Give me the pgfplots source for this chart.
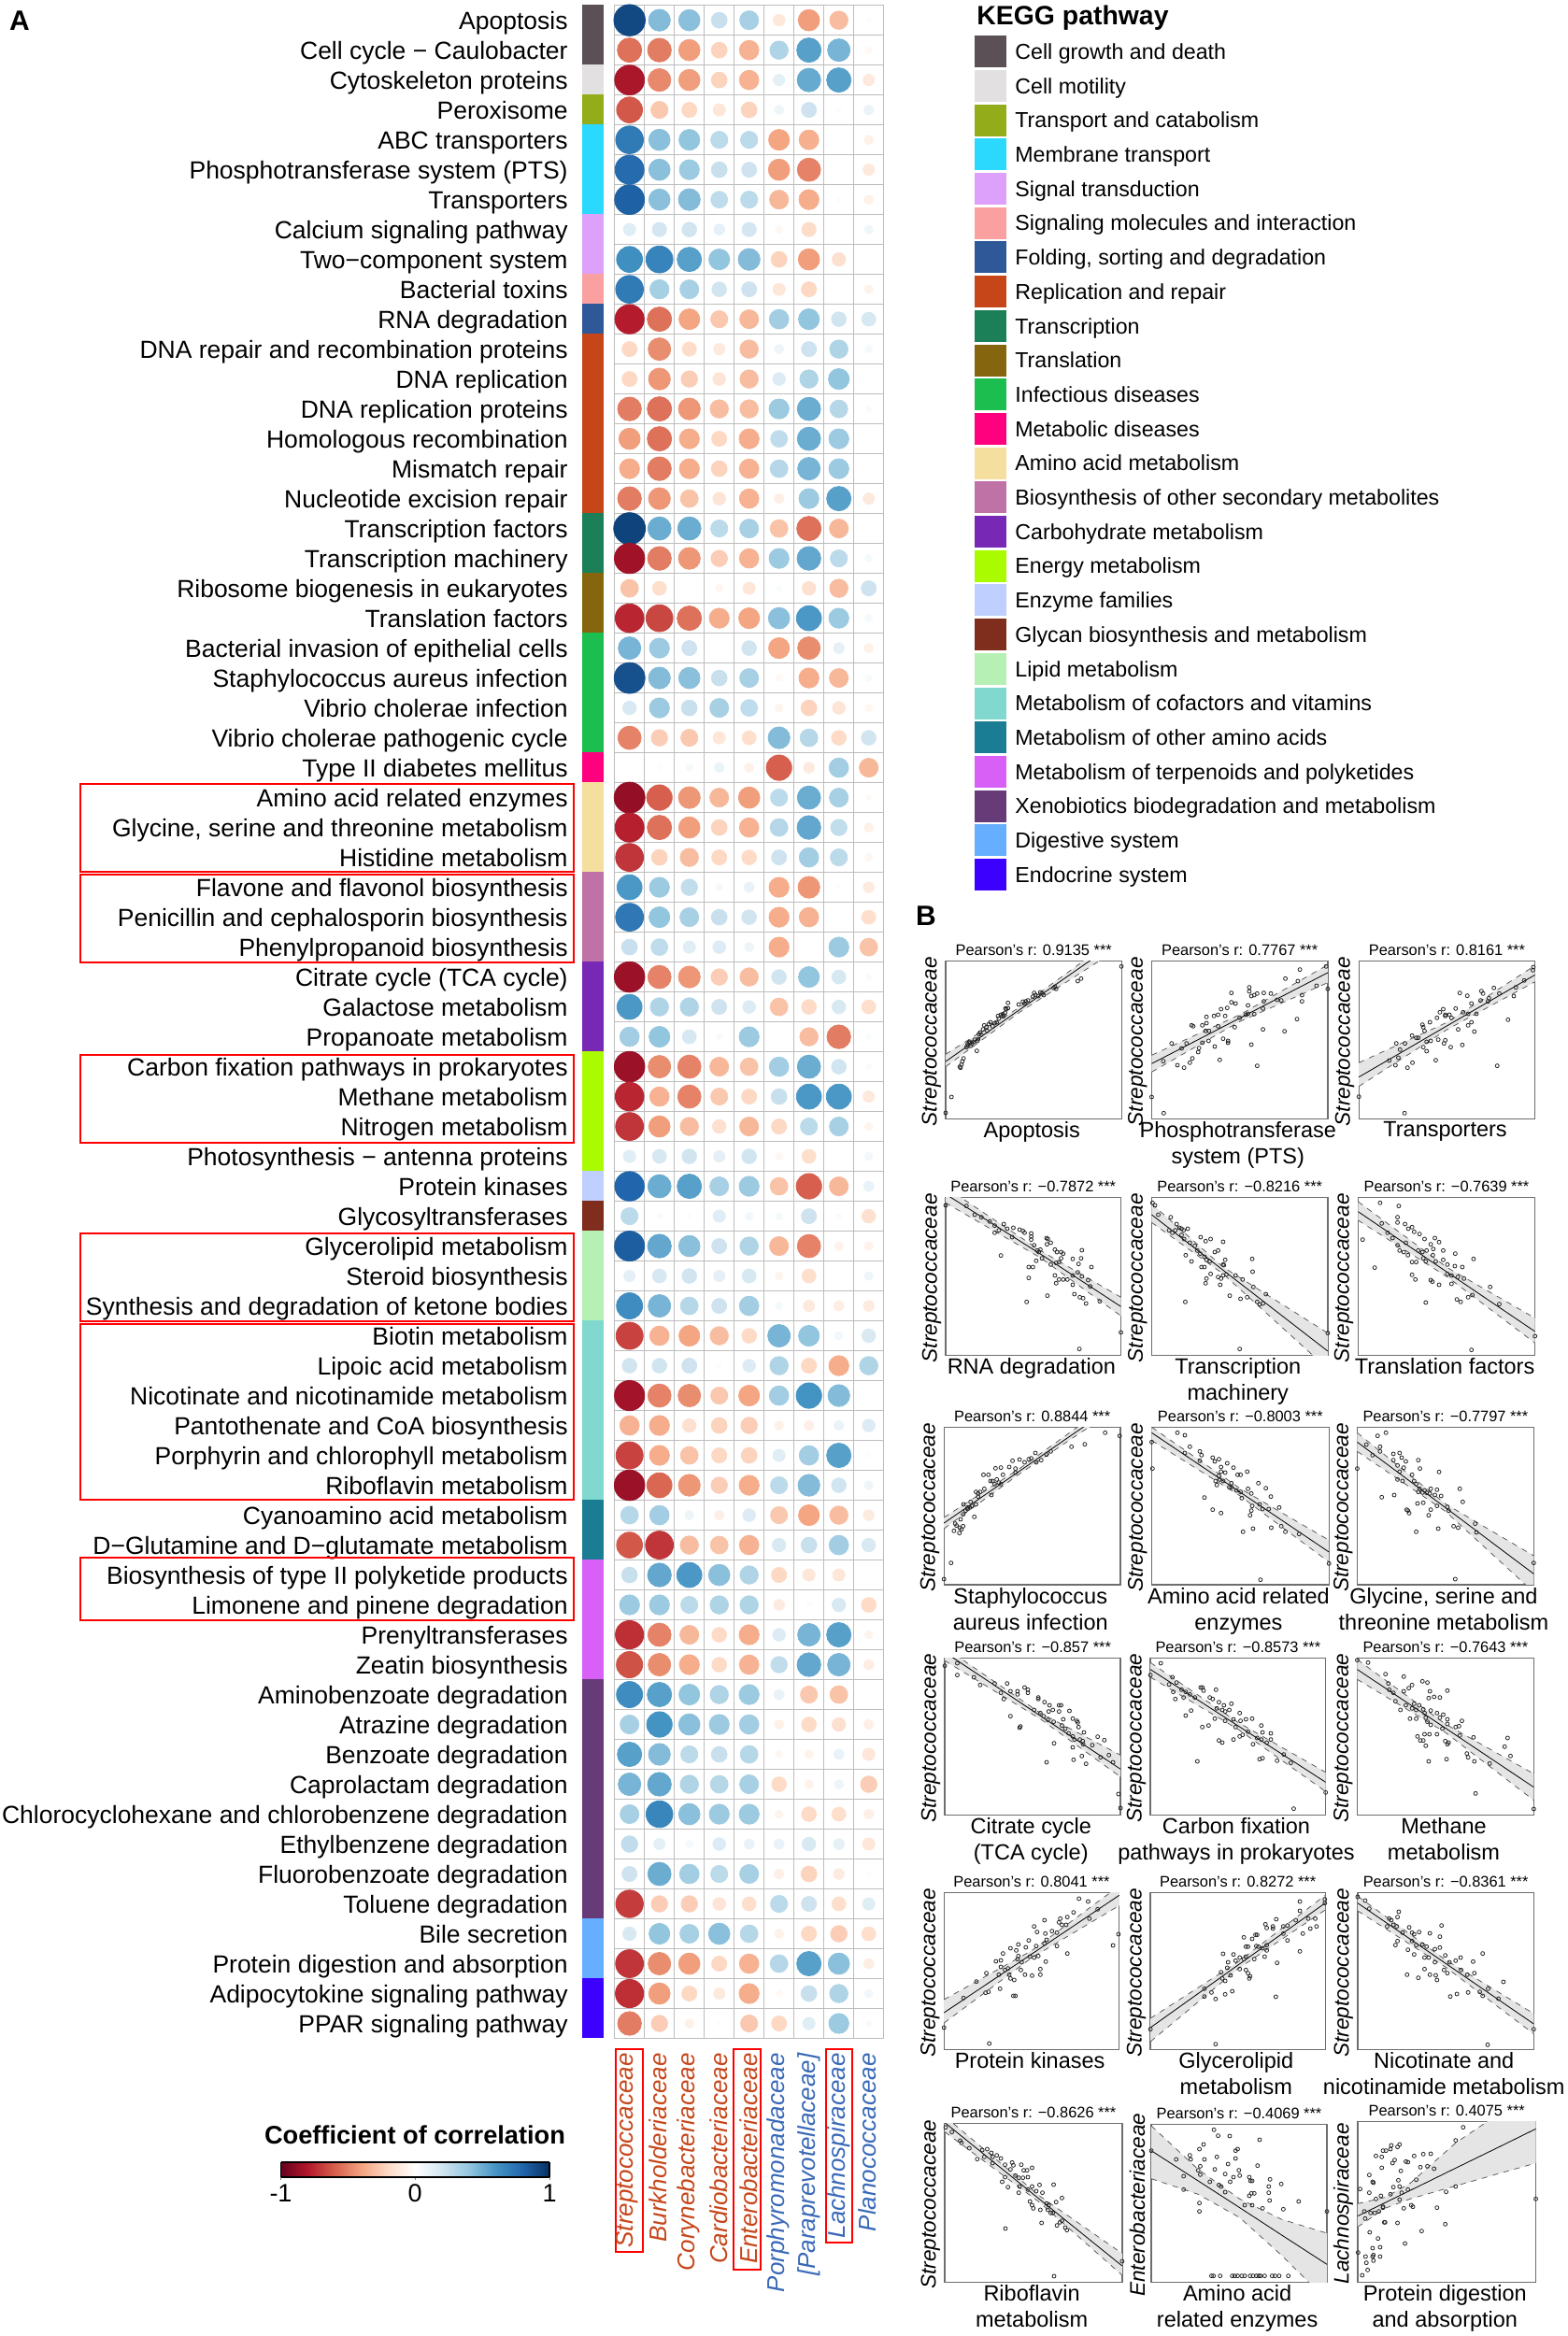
\documentclass[border=0pt]{standalone}
\usepackage{fontspec}
\setmainfont{Liberation Sans}
\usepackage{pgfplots}
\usepackage{pgfplotstable}
\pgfplotsset{compat=1.18}
\pgfplotsset{colormap={rdbu}{rgb255=(103,0,31) rgb255=(178,24,43) rgb255=(214,96,77) rgb255=(244,165,130) rgb255=(253,219,199) rgb255=(255,255,255) rgb255=(209,229,240) rgb255=(146,197,222) rgb255=(67,147,195) rgb255=(33,102,172) rgb255=(5,48,97)}}
\definecolor{gridc}{HTML}{BDBDBD}
\definecolor{colred}{HTML}{C6461A}
\definecolor{colblue}{HTML}{3A69B8}
\definecolor{frame}{HTML}{6E6E6E}

% correlation of each pathway (rows) with each family (columns)
\pgfplotstableread{
row c1 c2 c3 c4 c5 c6 c7 c8 c9
1 .91 .44 .42 .23 .33 -.13 -.42 -.31 .02
2 -.55 -.52 -.42 -.23 -.35 .31 .55 .47 -.04
3 -.82 -.48 -.42 -.23 -.35 .12 .51 .55 -.12
4 -.62 -.27 -.21 -.14 -.23 .08 .21 .02 .09
5 .71 .42 .40 .27 .27 -.40 -.36 0 -.08
6 .78 .42 .37 .23 .21 -.42 -.50 0 -.12
7 .82 .42 .44 .26 .27 -.33 -.37 -.02 -.08
8 .14 .19 .20 .11 .19 -.05 -.19 0 .07
9 .62 .67 .55 .40 .44 -.23 -.42 -.17 0
10 .71 .34 .33 .20 .21 -.14 -.21 0 -.07
11 -.79 -.55 -.40 -.27 -.33 .35 .40 .20 .18
12 -.21 -.47 -.19 -.12 -.31 .08 .21 .31 .05
13 -.21 -.44 -.25 -.15 -.31 .15 .31 .40 0
14 -.52 -.55 -.44 -.31 -.31 .37 .50 .29 .03
15 -.42 -.55 -.37 -.21 -.37 .26 .50 .37 0
16 -.37 -.52 -.37 -.23 -.35 .29 .47 .37 0
17 -.52 -.44 -.29 -.15 -.35 -.09 .37 .55 -.12
18 .93 .50 .50 .27 .33 -.29 -.55 -.33 0
19 -.85 -.52 -.44 -.25 -.35 .37 .52 .27 .05
20 -.29 -.18 0 -.05 -.14 .03 -.17 -.31 .21
21 -.76 -.67 -.55 -.37 -.40 .42 .58 .37 .05
22 .47 .37 .21 0 .20 -.40 -.47 .11 -.08
23 .88 .44 .42 .23 .33 -.04 -.37 -.33 .04
24 .17 .37 .23 .33 .26 -.06 -.23 -.15 -.05
25 -.50 -.25 -.27 -.14 -.18 .44 .29 -.20 .20
26 0 -.02 .05 .09 -.08 -.60 -.11 .35 -.33
27 -.88 -.60 -.44 -.33 -.42 .27 .50 .33 -.03
28 -.78 -.55 -.42 -.23 -.35 .29 .52 .25 -.08
29 -.72 -.23 -.31 -.21 -.20 .21 .35 .27 -.05
30 .58 .37 .25 .05 .10 -.37 -.44 .02 -.11
31 .72 .40 .33 .23 .20 -.37 -.35 .01 -.18
32 .23 .26 .14 .15 .08 -.37 0 .37 -.29
33 -.86 -.50 -.44 -.25 -.31 .20 .40 .18 .03
34 .58 .31 .31 .21 .15 -.29 -.20 .17 -.18
35 .35 .40 .18 .03 .37 0 -.31 -.52 .03
36 -.86 -.47 -.50 -.33 -.29 .35 .50 .20 .03
37 -.76 -.35 -.50 -.27 -.21 .23 .58 .58 -.12
38 -.72 -.42 -.31 -.17 -.33 -.21 .27 .33 -.06
39 .14 .18 .20 .12 .20 -.05 -.18 0 .06
40 .80 .50 .55 .33 .37 -.29 -.60 -.33 .10
41 .27 .03 .02 .14 .06 .05 .21 .03 -.17
42 .83 .52 .42 .21 .31 -.33 -.50 -.07 -.07
43 .12 .18 .20 .12 .18 -.06 -.18 0 .07
44 .63 .47 .29 .21 .35 .05 -.12 -.10 -.11
45 -.68 -.35 -.40 -.31 -.20 .47 .40 .06 .17
46 .20 .20 .21 .02 .15 .31 -.21 -.37 .31
47 -.84 -.50 -.47 -.27 -.40 .35 .60 .44 0
48 -.35 -.37 -.17 -.23 -.25 -.08 -.09 .09 .15
49 -.68 -.37 -.29 -.21 -.23 .14 .35 .55 .02
50 -.86 -.58 -.44 -.25 -.37 .27 .44 .20 .07
51 .29 .35 .08 -.09 .15 -.27 -.40 -.31 -.11
52 -.62 -.72 -.31 -.29 -.35 .17 .23 .35 .17
53 .23 .52 .58 .42 .31 -.21 -.14 -.14 .01
54 .37 .37 .27 .31 .31 -.11 .02 .17 -.20
55 -.74 -.50 -.33 -.20 -.37 .15 .47 .55 -.06
56 -.64 -.47 -.37 -.20 -.35 .25 .52 .47 -.10
57 .63 .55 .40 .31 .37 .10 -.27 -.29 0
58 .33 .60 .42 .37 .35 -.08 -.20 -.17 -.09
59 .55 .44 .27 .23 .29 -.05 -.07 .10 -.14
60 .47 .52 .31 .29 .33 -.20 -.07 .08 -.25
61 .33 .66 .42 .37 .37 -.06 -.20 -.18 -.09
62 .25 .12 .05 .15 .10 .10 .17 .11 -.14
63 .21 .50 .35 .27 .33 -.09 -.23 -.11 -.02
64 -.70 -.25 -.25 -.15 -.18 .27 .21 -.18 .14
65 .17 .40 .33 .42 .29 -.08 -.21 -.25 -.18
66 -.72 -.47 -.42 -.21 -.35 .29 .55 .42 -.10
67 -.74 -.42 -.21 -.12 -.37 -.04 .23 .31 .06
68 -.52 -.25 -.08 -.02 -.27 -.21 .14 .37 -.03
}\heat

% confidence bands: x, fit, upper and lower limit (screen order)
\pgfplotstableread[row sep=\\]{x fit up lo\\72 408 385 425\\250 242 234 250\\420 84 70 104\\496 13 -10 38\\}\bA
\pgfplotstableread[row sep=\\]{x fit up lo\\568 415 388 442\\780 269 258 280\\992 123 98 155\\}\bB
\pgfplotstableread[row sep=\\]{x fit up lo\\1067 458 412 488\\1280 293 282 305\\1491 130 100 152\\}\bC
\pgfplotstableread[row sep=\\]{x fit up lo\\72 834 812 862\\300 1026 1015 1038\\494 1195 1165 1225\\}\bD
\pgfplotstableread[row sep=\\]{x fit up lo\\568 900 865 925\\740 1078 1068 1090\\992 1338 1280 1395\\}\bE
\pgfplotstableread[row sep=\\]{x fit up lo\\1065 890 858 918\\1280 1085 1070 1100\\1491 1275 1232 1312\\}\bF
\pgfplotstableread[row sep=\\]{x fit up lo\\68 390 372 408\\250 223 215 232\\402 83 70 95\\493 -1 -25 25\\}\bG
\pgfplotstableread[row sep=\\]{x fit up lo\\568 100 82 125\\780 290 278 302\\995 483 445 515\\}\bH
\pgfplotstableread[row sep=\\]{x fit up lo\\1063 130 100 160\\1275 340 328 352\\1488 553 495 612\\}\bI
\pgfplotstableread[row sep=\\]{x fit up lo\\70 805 790 832\\300 1009 1000 1019\\493 1180 1135 1205\\}\bJ
\pgfplotstableread[row sep=\\]{x fit up lo\\565 860 838 885\\776 1041 1030 1052\\987 1222 1190 1252\\}\bK
\pgfplotstableread[row sep=\\]{x fit up lo\\1063 860 828 892\\1275 1048 1035 1062\\1488 1238 1195 1280\\}\bL
\pgfplotstableread[row sep=\\]{x fit up lo\\68 462 420 495\\280 273 262 285\\490 85 55 118\\}\bM
\pgfplotstableread[row sep=\\]{x fit up lo\\565 510 480 555\\775 310 300 322\\986 110 85 132\\}\bN
\pgfplotstableread[row sep=\\]{x fit up lo\\1064 110 88 135\\1275 303 292 315\\1488 498 465 530\\}\bO
\pgfplotstableread[row sep=\\]{x fit up lo\\70 815 795 845\\300 1063 1052 1073\\497 1275 1235 1305\\}\bP
\pgfplotstableread[row sep=\\]{x fit up lo\\567 905 825 995\\680 1002 965 1045\\780 1088 1060 1120\\880 1175 1125 1240\\990 1270 1170 1385\\}\bQ
\pgfplotstableread[row sep=\\]{x fit up lo\\1064 1115 1075 1150\\1130 1072 1055 1090\\1190 1033 1010 1060\\1300 961 880 1018\\1400 896 790 980\\1493 835 700 945\\}\bR

% one scatter panel; the coordinates are positions in the zoomed crop, \oy is its top
\newcommand{\panel}[9]{%
  \pgfmathsetmacro{\pL}{(980+#1/2.25)*0.5}
  \pgfmathsetmacro{\pB}{(2500-\oy-#4/3)*0.5}
  \pgfmathsetmacro{\pW}{(#2-#1)/2.25*0.5}
  \pgfmathsetmacro{\pH}{(#4-#3)/3*0.5}
  \begin{axis}[at={(\pL pt,\pB pt)},anchor=south west,scale only axis,
    width=\pW pt,height=\pH pt,xmin=#1,xmax=#2,ymin=#3,ymax=#4,y dir=reverse,
    ticks=none,axis line style={frame,line width=0.7pt},
    title={#7},title style={at={(axis description cs:0.5,1.07)},anchor=center,yshift=-6pt,font=\fontsize{8.2}{10}\selectfont},
    xlabel={#9},xlabel style={at={(axis description cs:0.49,0)},anchor=north,align=center,yshift=2pt,font=\fontsize{11.75}{14}\selectfont},
    ylabel={#8},ylabel style={at={(axis description cs:-0.08,0.49)},anchor=center,font=\fontsize{11.3}{13}\itshape}]
    \addplot[stack plots=y,draw=none] table[x=x,y=up] {#6};
    \addplot[stack plots=y,draw=none,fill=black!10] table[x=x,y expr=\thisrow{lo}-\thisrow{up}] {#6} \closedcycle;
    \addplot[stack plots=false,draw=black!70,line width=0.35pt,dash pattern=on 3pt off 3pt] table[x=x,y=up] {#6};
    \addplot[stack plots=false,draw=black!70,line width=0.35pt,dash pattern=on 3pt off 3pt] table[x=x,y=lo] {#6};
    \addplot[stack plots=false,black,line width=0.4pt] table[x=x,y=fit] {#6};
    \addplot[stack plots=false,only marks,mark=o,mark size=1pt,mark options={draw=black!85,line width=0.4pt}] coordinates {#5};
  \end{axis}}

\begin{document}
\begin{tikzpicture}
\useasboundingbox (0,0) rectangle (838.5pt,1250pt);

% dot matrix
\begin{axis}[at={(328.85pt,159.25pt)},anchor=south west,scale only axis,
  width=144pt,height=1088pt,xmin=0.5,xmax=9.5,ymin=0.5,ymax=68.5,y dir=reverse,
  xtick={0.5,1.5,...,9.5},ytick={0.5,1.5,...,68.5},xticklabels={},yticklabels={},
  major tick length=0pt,grid=major,major grid style={gridc,line width=0.7pt},
  axis line style={gridc,line width=0.7pt},clip=false,
  colormap name=rdbu,point meta min=-1,point meta max=1]
  \pgfplotsinvokeforeach{1,...,9}{
    \addplot[scatter,only marks,mark=*,point meta=explicit,
      scatter/use mapped color={draw=mapped color,fill=mapped color},
      visualization depends on={8.8*sqrt(abs(\thisrow{c#1})) \as \ms},
      scatter/@pre marker code/.append style={/tikz/mark size=\ms}]
      table[x expr=#1,y=row,meta=c#1] {\heat};
  }
\end{axis}

\begin{scope}[x=0.5pt,y=-0.5pt,yshift=1250pt]
  \node[anchor=base west,font=\fontsize{15}{18}\bfseries] at (3,33) {A};
  \node[anchor=base west,font=\fontsize{15}{18}\bfseries] at (973,991) {B};

  % pathway names
  \foreach \t [count=\i] in {Apoptosis,Cell cycle − Caulobacter,Cytoskeleton proteins,Peroxisome,ABC transporters,Phosphotransferase system (PTS),Transporters,Calcium signaling pathway,Two−component system,Bacterial toxins,RNA degradation,DNA repair and recombination proteins,DNA replication,DNA replication proteins,Homologous recombination,Mismatch repair,Nucleotide excision repair,Transcription factors,Transcription machinery,Ribosome biogenesis in eukaryotes,Translation factors,Bacterial invasion of epithelial cells,Staphylococcus aureus infection,Vibrio cholerae infection,Vibrio cholerae pathogenic cycle,Type II diabetes mellitus,Amino acid related enzymes,{Glycine, serine and threonine metabolism},Histidine metabolism,Flavone and flavonol biosynthesis,Penicillin and cephalosporin biosynthesis,Phenylpropanoid biosynthesis,Citrate cycle (TCA cycle),Galactose metabolism,Propanoate metabolism,Carbon fixation pathways in prokaryotes,Methane metabolism,Nitrogen metabolism,Photosynthesis − antenna proteins,Protein kinases,Glycosyltransferases,Glycerolipid metabolism,Steroid biosynthesis,Synthesis and degradation of ketone bodies,Biotin metabolism,Lipoic acid metabolism,Nicotinate and nicotinamide metabolism,Pantothenate and CoA biosynthesis,Porphyrin and chlorophyll metabolism,Riboflavin metabolism,Cyanoamino acid metabolism,D−Glutamine and D−glutamate metabolism,Biosynthesis of type II polyketide products,Limonene and pinene degradation,Prenyltransferases,Zeatin biosynthesis,Aminobenzoate degradation,Atrazine degradation,Benzoate degradation,Caprolactam degradation,Chlorocyclohexane and chlorobenzene degradation,Ethylbenzene degradation,Fluorobenzoate degradation,Toluene degradation,Bile secretion,Protein digestion and absorption,Adipocytokine signaling pathway,PPAR signaling pathway}
    \node[anchor=base east,inner sep=0pt,font=\fontsize{13.25}{16}\selectfont] at (608,{5.5+(\i-0.5)*32+10}) {\t};

  % coloured strip beside the names
  \foreach \hex/\a/\b in {5A5055/0/2,E2E0E1/2/3,93AC19/3/4,2BD9FF/4/7,DDA0FB/7/9,FBA0A0/9/10,2F5898/10/11,C6461A/11/17,1B7F58/17/19,85650D/19/21,1CBF4F/21/25,FF007F/25/26,F5DF9F/26/29,BF72A6/29/32,7728B4/32/35,AAFA00/35/39,BFCFFF/39/40,7F2D1C/40/41,B7F0B5/41/44,80D8CF/44/50,1B7D93/50/52,D860F7/52/56,673A78/56/64,66AEFF/64/66,3C00FF/66/68}{
    \definecolor{tmp}{HTML}{\hex}
    \fill[tmp] (622.5,{5.5+\a*32}) rectangle (646,{5.5+\b*32});
  }

  % red boxes
  \foreach \a/\b in {838.7/932.7,935.7/1030,1128.7/1223,1320/1414,1417.5/1605.5,1667.5/1733.6}
    \draw[red,line width=1pt] (85.7,\a) rectangle (613.5,\b);
  \foreach \a/\b/\c in {658.6/687.6/2410,785.4/814.3/2428.7,883.6/912/2400}
    \draw[red,line width=1pt] (\a,2192.7) rectangle (\b,\c);

  % family names
  \foreach \t/\x/\c in {Streptococcaceae/671.5/colred,Burkholderiaceae/704.5/colred,Corynebacteriaceae/736.7/colred,Cardiobacteriaceae/768.8/colred,Enterobacteriaceae/801/colred,Porphyromonadaceae/833/colblue,{[Paraprevotellaceae]}/866/colblue,Lachnospiraceae/897.4/colblue,Planococcaceae/928.6/colblue}
    \node[rotate=90,anchor=east,inner sep=0pt,text=\c,font=\fontsize{13}{15}\itshape] at (\x,2197) {\t};

  % KEGG legend
  \node[anchor=base west,inner sep=0pt,font=\fontsize{14.2}{17}\bfseries] at (1045,27) {KEGG pathway};
  \foreach \hex/\t [count=\i from 0] in {5A5055/Cell growth and death,E2E0E1/Cell motility,93AC19/Transport and catabolism,2BD9FF/Membrane transport,DDA0FB/Signal transduction,FBA0A0/Signaling molecules and interaction,2F5898/{Folding, sorting and degradation},C6461A/Replication and repair,1B7F58/Transcription,85650D/Translation,1CBF4F/Infectious diseases,FF007F/Metabolic diseases,F5DF9F/Amino acid metabolism,BF72A6/Biosynthesis of other secondary metabolites,7728B4/Carbohydrate metabolism,AAFA00/Energy metabolism,BFCFFF/Enzyme families,7F2D1C/Glycan biosynthesis and metabolism,B7F0B5/Lipid metabolism,80D8CF/Metabolism of cofactors and vitamins,1B7D93/Metabolism of other amino acids,D860F7/Metabolism of terpenoids and polyketides,673A78/Xenobiotics biodegradation and metabolism,66AEFF/Digestive system,3C00FF/Endocrine system}{
    \definecolor{tmp}{HTML}{\hex}
    \fill[tmp] (1043.4,{38.3+36.7*\i}) rectangle (1077,{72.3+36.7*\i});
    \node[anchor=base west,inner sep=0pt,font=\fontsize{11.6}{14}\selectfont] at (1086,{63.5+36.7*\i}) {\t};
  }
  \node[anchor=center,inner sep=0pt,font=\fontsize{13.6}{16}\bfseries] at (444,2285) {Coefficient of correlation};
\end{scope}

% colour bar
\begin{axis}[at={(150.25pt,85pt)},anchor=south west,scale only axis,width=143.75pt,height=8pt,
  xmin=-1,xmax=1,ymin=0,ymax=1,view={0}{90},ytick=\empty,xtick={-1,0,1},xticklabels={-1,0,1},
  xtick pos=bottom,tick align=outside,major tick length=1.5pt,
  xticklabel style={font=\fontsize{13.5}{16}\selectfont,yshift=1pt},
  axis line style={line width=0.6pt},colormap name=rdbu,point meta min=-1,point meta max=1]
  \addplot3[surf,shader=interp,mesh/rows=2,point meta=x] table {
x y z
-1 0 0
-.8 0 0
-.6 0 0
-.4 0 0
-.2 0 0
0 0 0
.2 0 0
.4 0 0
.6 0 0
.8 0 0
1 0 0
-1 1 0
-.8 1 0
-.6 1 0
-.4 1 0
-.2 1 0
0 1 0
.2 1 0
.4 1 0
.6 1 0
.8 1 0
1 1 0
};
\end{axis}

\def\oy{1000}
\panel{72}{496}{86}{593}{(72,573)(86,522)(106,425)(108,428)(110,418)(112,408)(115,398)(147,374)(122,362)(125,352)(128,348)(132,358)(135,350)(140,345)(148,342)(150,336)(130,345)(158,322)(162,305)(165,292)(170,298)(176,288)(180,282)(172,310)(185,295)(190,285)(195,282)(200,270)(205,258)(210,256)(215,252)(218,240)(222,237)(222,220)(212,262)(198,262)(248,225)(258,216)(262,222)(270,212)(285,188)(288,195)(295,198)(305,190)(308,195)(300,186)(332,172)(335,168)(338,175)(390,150)(398,142)(495,103)(265,215)(155,315)(152,320)(142,338)(126,358)(208,263)(216,238)(282,200)}{\bA}{Pearson's r: 0.9135 ***}{Streptococcaceae}{Apoptosis}
\panel{568}{992}{86}{593}{(568,522)(597,574)(596,407)(630,420)(646,428)(660,412)(666,398)(616,350)(640,366)(652,350)(664,292)(668,295)(680,378)(682,365)(690,348)(698,310)(706,310)(690,292)(700,285)(700,265)(718,262)(728,258)(735,240)(750,236)(745,262)(760,188)(760,218)(770,222)(720,360)(732,403)(740,335)(752,342)(752,348)(808,354)(822,422)(836,305)(888,311)(918,272)(768,298)(780,268)(795,258)(800,228)(803,170)(803,183)(808,198)(815,195)(822,190)(838,188)(838,215)(855,190)(870,210)(880,212)(890,142)(920,150)(925,113)(930,195)(930,215)(965,165)(988,103)(992,175)(836,238)(800,255)(815,256)(705,342)(728,295)}{\bB}{Pearson's r: 0.7767 ***}{Streptococcaceae}{Phosphotransferase\\system (PTS)}
\panel{1067}{1491}{86}{593}{(1067,521)(1177,574)(1140,405)(1155,420)(1162,396)(1184,428)(1196,412)(1157,350)(1178,350)(1166,370)(1195,325)(1205,332)(1210,332)(1220,290)(1222,298)(1225,310)(1238,282)(1230,345)(1240,342)(1222,362)(1230,375)(1252,404)(1258,338)(1272,350)(1275,340)(1288,362)(1316,355)(1400,422)(1426,274)(1345,312)(1338,282)(1330,292)(1306,305)(1270,240)(1262,250)(1275,262)(1285,258)(1290,268)(1300,238)(1310,188)(1328,197)(1338,222)(1318,250)(1330,255)(1350,255)(1362,182)(1366,190)(1360,212)(1380,205)(1378,215)(1392,172)(1405,190)(1440,198)(1445,170)(1465,148)(1487,105)(1486,115)(1255,268)(1275,258)}{\bC}{Pearson's r: 0.8161 ***}{Streptococcaceae}{Transporters}
\panel{72}{494}{845}{1352}{(70,862)(72,870)(122,872)(142,900)(158,908)(178,922)(190,935)(212,930)(190,958)(200,950)(205,1031)(220,945)(232,972)(235,942)(250,948)(258,952)(262,958)(278,960)(278,970)(278,980)(285,998)(292,1015)(296,1020)(300,1012)(315,975)(318,978)(325,990)(316,995)(335,1012)(340,1020)(350,1020)(355,1025)(350,1040)(345,1052)(338,1055)(400,1014)(398,1040)(378,1042)(392,1058)(423,1068)(272,1068)(282,1068)(272,1103)(290,1048)(304,1040)(325,1060)(335,1095)(338,1120)(345,1108)(355,1108)(365,1108)(378,1125)(378,1095)(390,1085)(400,1098)(415,1110)(420,1130)(382,1155)(395,1165)(403,1168)(410,1185)(443,1178)(317,1160)(267,1180)(394,1331)(494,1278)}{\bD}{Pearson's r: −0.7872 ***}{Streptococcaceae}{RNA degradation}
\panel{568}{992}{845}{1352}{(570,862)(576,870)(584,900)(614,908)(610,950)(618,958)(628,930)(635,942)(645,950)(655,945)(640,965)(646,978)(660,990)(672,1000)(650,1030)(664,1050)(678,1015)(686,972)(698,985)(710,978)(740,987)(685,1025)(695,1035)(700,1045)(708,1050)(720,1020)(728,1015)(745,1045)(740,1060)(688,1068)(695,1068)(710,1090)(698,1120)(700,1105)(728,1100)(735,1105)(733,1125)(740,1095)(748,1092)(770,1095)(787,1108)(810,1042)(811,1083)(813,1132)(843,1155)(756,1160)(782,1170)(798,1165)(822,1180)(828,1188)(836,1185)(649,1180)(780,1331)(992,1280)(625,950)(640,945)(742,1062)}{\bE}{Pearson's r: −0.8216 ***}{Streptococcaceae}{Transcription\\machinery}
\panel{1065}{1491}{845}{1352}{(1076,980)(1118,862)(1163,872)(1122,928)(1136,958)(1148,975)(1160,908)(1160,925)(1178,930)(1186,945)(1195,940)(1200,955)(1213,962)(1225,978)(1250,975)(1260,988)(1240,995)(1160,998)(1165,1015)(1175,1020)(1185,1030)(1195,1052)(1205,1052)(1210,1015)(1220,1020)(1230,1015)(1246,1010)(1245,1030)(1270,1015)(1299,1025)(1343,1042)(1222,1040)(1228,1050)(1252,1050)(1270,1045)(1280,1060)(1298,1065)(1316,1068)(1105,1070)(1195,1093)(1203,1108)(1240,1110)(1244,1115)(1260,1125)(1228,1182)(1280,1090)(1290,1095)(1305,1100)(1320,1105)(1290,1122)(1303,1172)(1312,1180)(1330,1165)(1340,1158)(1383,1132)(1405,1187)(1338,1334)(1491,1290)(1180,990)}{\bF}{Pearson's r: −0.7639 ***}{Streptococcaceae}{Translation factors}
\def\oy{1500}
\panel{68}{493}{83}{588}{(68,570)(85,518)(92,415)(95,392)(98,398)(105,422)(106,405)(110,410)(114,400)(108,378)(114,362)(120,350)(115,330)(125,345)(130,340)(132,322)(141,370)(145,330)(145,290)(150,305)(155,290)(165,280)(182,300)(180,255)(185,255)(190,265)(163,235)(175,235)(192,214)(205,212)(225,210)(233,190)(240,215)(250,186)(262,195)(272,185)(278,182)(288,165)(290,195)(302,188)(315,170)(325,160)(375,145)(407,137)(456,100)(491,110)(200,260)(205,265)(210,235)(195,250)(240,228)(150,295)(125,340)(135,335)}{\bG}{Pearson's r: 0.8844 ***}{Streptococcaceae}{Staphylococcus\\aureus infection}
\panel{568}{995}{83}{588}{(570,215)(568,130)(630,100)(648,108)(660,145)(648,165)(684,160)(688,172)(684,190)(715,180)(720,192)(730,185)(735,210)(750,198)(765,212)(735,225)(745,228)(730,238)(775,235)(782,235)(798,225)(732,250)(725,268)(722,255)(760,262)(760,275)(772,285)(782,290)(800,280)(825,262)(843,278)(808,295)(785,310)(855,305)(828,330)(810,335)(835,345)(808,350)(805,365)(850,345)(875,340)(695,308)(715,347)(735,358)(788,418)(812,408)(856,405)(880,400)(890,418)(923,425)(830,572)(995,520)(740,255)(755,275)}{\bH}{Pearson's r: −0.8003 ***}{Streptococcaceae}{Amino acid related\\enzymes}
\panel{1063}{1488}{83}{588}{(1063,215)(1112,110)(1132,100)(1085,138)(1100,172)(1118,145)(1118,160)(1150,168)(1150,188)(1165,165)(1170,180)(1180,192)(1210,188)(1214,215)(1260,226)(1175,212)(1160,205)(1165,225)(1160,250)(1172,255)(1195,235)(1200,255)(1205,265)(1213,280)(1225,285)(1240,280)(1255,283)(1310,280)(1238,295)(1250,300)(1265,303)(1122,307)(1152,300)(1208,327)(1222,325)(1182,347)(1188,358)(1185,350)(1240,347)(1235,365)(1255,335)(1280,338)(1283,350)(1317,322)(1205,418)(1258,408)(1295,400)(1306,405)(1347,392)(1350,420)(1299,570)(1488,518)(1210,290)(1220,292)(1230,293)}{\bI}{Pearson's r: −0.7797 ***}{Streptococcaceae}{Glycine, serine and\\threonine metabolism}
\panel{70}{493}{823}{1328}{(70,848)(100,840)(100,878)(140,885)(155,910)(190,905)(205,935)(212,955)(220,905)(228,930)(245,930)(245,940)(262,918)(270,925)(270,935)(295,950)(295,955)(310,965)(322,975)(345,975)(350,975)(228,1010)(252,1043)(250,1047)(285,990)(300,1000)(320,995)(330,990)(345,995)(355,1020)(370,993)(378,1018)(388,1025)(390,1030)(308,1010)(318,1022)(332,1028)(352,1040)(360,1050)(392,1045)(405,1062)(368,1065)(378,1075)(382,1085)(395,1085)(402,1090)(438,1076)(454,1087)(425,1103)(333,1097)(378,1110)(403,1100)(400,1138)(380,1150)(410,1163)(315,1158)(445,1142)(475,1158)(465,1135)(488,1260)(493,1305)}{\bJ}{Pearson's r: −0.857 ***}{Streptococcaceae}{Citrate cycle\\(TCA cycle)}
\panel{565}{987}{823}{1328}{(590,840)(565,878)(618,885)(628,902)(610,908)(620,932)(640,925)(650,932)(625,955)(645,950)(660,940)(672,950)(686,918)(693,928)(690,918)(723,925)(708,950)(715,955)(730,965)(742,975)(760,970)(663,992)(650,1008)(725,985)(738,990)(745,995)(755,990)(780,1000)(720,1018)(745,1025)(765,1020)(782,1025)(795,1020)(810,1018)(690,1045)(705,1040)(770,1045)(832,1040)(835,1062)(855,1065)(787,1070)(800,1060)(765,1085)(730,1088)(738,1095)(780,1075)(822,1080)(832,1085)(845,1095)(855,1085)(812,1100)(835,1145)(828,1148)(870,1153)(886,1133)(903,1160)(678,1155)(910,1307)(987,1255)}{\bK}{Pearson's r: −0.8573 ***}{Streptococcaceae}{Carbon fixation\\pathways in prokaryotes}
\panel{1063}{1488}{823}{1328}{(1063,830)(1089,838)(1131,875)(1175,883)(1138,905)(1195,910)(1220,898)(1232,902)(1280,928)(1140,925)(1150,935)(1175,930)(1187,920)(1238,930)(1248,948)(1262,950)(1235,952)(1155,962)(1180,975)(1200,970)(1212,975)(1195,985)(1167,990)(1205,990)(1222,988)(1240,992)(1225,1000)(1255,1000)(1270,1005)(1190,1018)(1205,1018)(1228,1015)(1262,1015)(1280,1020)(1315,1025)(1232,1028)(1240,1038)(1280,1035)(1300,1045)(1308,1042)(1225,1068)(1237,1068)(1268,1050)(1255,1068)(1208,1075)(1215,1088)(1222,1088)(1228,1105)(1275,1090)(1283,1095)(1280,1100)(1310,1072)(1343,1078)(1425,1080)(1418,1108)(1432,1138)(1327,1130)(1330,1142)(1345,1155)(1382,1162)(1235,1155)(1278,1148)(1348,1258)(1488,1308)}{\bL}{Pearson's r: −0.7643 ***}{Streptococcaceae}{Methane\\metabolism}
\def\oy{2000}
\panel{68}{490}{77}{581}{(68,510)(177,561)(115,415)(146,362)(170,335)(168,398)(175,395)(203,385)(235,408)(240,408)(193,297)(205,294)(210,272)(205,315)(200,340)(215,325)(222,320)(225,340)(228,352)(237,357)(228,255)(242,262)(247,243)(247,280)(245,290)(255,300)(253,325)(263,340)(280,343)(300,340)(300,322)(313,298)(265,252)(272,230)(285,185)(292,203)(275,282)(285,285)(295,280)(290,248)(310,240)(315,228)(312,208)(328,200)(340,205)(340,248)(310,165)(345,172)(348,160)(352,180)(362,180)(365,155)(380,140)(365,272)(475,246)(393,96)(415,105)(438,130)(418,160)(488,210)}{\bM}{Pearson's r: 0.8041 ***}{Streptococcaceae}{Protein kinases}
\panel{565}{986}{77}{581}{(565,515)(722,563)(695,385)(695,410)(712,397)(722,418)(745,403)(762,393)(740,273)(735,332)(750,318)(738,352)(745,360)(758,342)(752,300)(770,295)(765,275)(780,285)(790,290)(795,282)(790,220)(810,225)(818,212)(822,212)(800,250)(795,250)(820,248)(825,250)(835,255)(845,245)(845,262)(780,322)(795,325)(800,335)(805,345)(803,352)(815,290)(840,282)(870,302)(867,411)(925,265)(842,178)(845,190)(860,192)(868,162)(860,185)(885,185)(895,182)(885,208)(895,230)(915,165)(925,105)(925,135)(932,208)(945,160)(950,192)(965,185)(962,160)(985,98)(985,110)}{\bN}{Pearson's r: 0.8272 ***}{Streptococcaceae}{Glycerolipid\\metabolism}
\panel{1064}{1488}{77}{581}{(1064,90)(1082,102)(1092,128)(1140,160)(1145,165)(1160,155)(1163,138)(1135,185)(1150,180)(1158,185)(1188,188)(1172,205)(1195,205)(1200,210)(1212,203)(1238,207)(1262,218)(1266,182)(1160,232)(1155,245)(1185,260)(1195,232)(1205,245)(1220,243)(1230,250)(1250,258)(1262,253)(1275,278)(1200,275)(1225,285)(1235,285)(1250,300)(1285,300)(1300,295)(1312,285)(1365,272)(1342,298)(1313,325)(1345,335)(1183,340)(1210,350)(1225,322)(1238,340)(1252,342)(1255,357)(1272,325)(1280,335)(1328,340)(1415,363)(1378,385)(1287,410)(1303,402)(1330,397)(1358,395)(1365,408)(1403,417)(1377,565)(1488,515)}{\bO}{Pearson's r: −0.8361 ***}{Streptococcaceae}{Nicotinate and\\nicotinamide metabolism}
\panel{70}{497}{817}{1328}{(72,830)(87,845)(107,873)(110,880)(129,897)(148,932)(160,903)(165,925)(172,900)(182,912)(185,925)(195,920)(205,930)(185,945)(215,950)(232,943)(235,952)(254,950)(260,968)(268,968)(280,960)(228,965)(240,985)(248,992)(258,992)(270,990)(215,990)(222,1022)(208,1005)(248,1040)(280,1020)(298,1015)(305,1040)(332,1014)(352,1057)(338,1070)(315,1075)(320,1080)(275,1068)(280,1080)(283,1090)(300,1095)(318,1095)(325,1105)(330,1105)(303,1137)(340,1145)(347,1135)(352,1130)(360,1152)(364,1160)(216,1155)(333,1308)(497,1260)(250,1020)(270,1030)(290,1035)}{\bP}{Pearson's r: −0.8626 ***}{Streptococcaceae}{Riboflavin\\metabolism}
\panel{567}{990}{820}{1328}{(567,905)(627,933)(660,920)(662,933)(645,987)(645,1030)(683,900)(693,885)(718,838)(728,857)(756,858)(828,870)(770,905)(775,900)(770,930)(695,933)(685,955)(680,968)(685,982)(708,1005)(725,925)(720,965)(730,1015)(735,1020)(745,980)(745,1038)(752,948)(757,1005)(765,990)(778,968)(780,985)(803,990)(806,1002)(810,1002)(823,953)(853,997)(850,1020)(880,1012)(850,1040)(852,1065)(808,1042)(815,1042)(803,1050)(810,1080)(792,1080)(835,1090)(885,1093)(922,1068)(683,1073)(683,1100)(990,1100)(712,1307)(717,1307)(733,1307)(762,1307)(768,1307)(775,1307)(785,1307)(792,1307)(805,1307)(812,1307)(820,1307)(826,1307)(830,1307)(840,1307)(858,1307)(865,1307)(875,1307)(897,1307)}{\bQ}{Pearson's r: −0.4069 ***}{Enterobacteriaceae}{Amino acid\\related enzymes}
\panel{1064}{1493}{812}{1328}{(1065,1232)(1070,1028)(1075,1305)(1080,1100)(1082,1123)(1088,1288)(1085,1265)(1083,1245)(1100,1245)(1102,1240)(1102,1258)(1093,1167)(1113,1187)(1100,1218)(1118,1215)(1118,1245)(1092,983)(1100,1005)(1102,1008)(1092,1040)(1108,1060)(1095,1105)(1105,1105)(1115,1100)(1125,1085)(1120,1050)(1122,960)(1108,922)(1125,905)(1132,905)(1122,925)(1143,900)(1148,945)(1153,935)(1145,888)(1160,893)(1165,885)(1168,970)(1162,1000)(1150,1022)(1143,1045)(1165,1020)(1170,1040)(1185,1030)(1165,1062)(1175,1090)(1180,940)(1185,942)(1200,922)(1222,916)(1240,915)(1215,958)(1232,955)(1248,963)(1205,998)(1128,1135)(1130,1135)(1160,1137)(1178,1203)(1193,1080)(1197,1085)(1218,1163)(1275,1141)(1255,1088)(1277,1037)(1300,1020)(1300,872)(1318,830)(1493,1060)(1125,1088)}{\bR}{Pearson's r: 0.4075 ***}{Lachnospiraceae}{Protein digestion\\and absorption}
\end{tikzpicture}
\end{document}
